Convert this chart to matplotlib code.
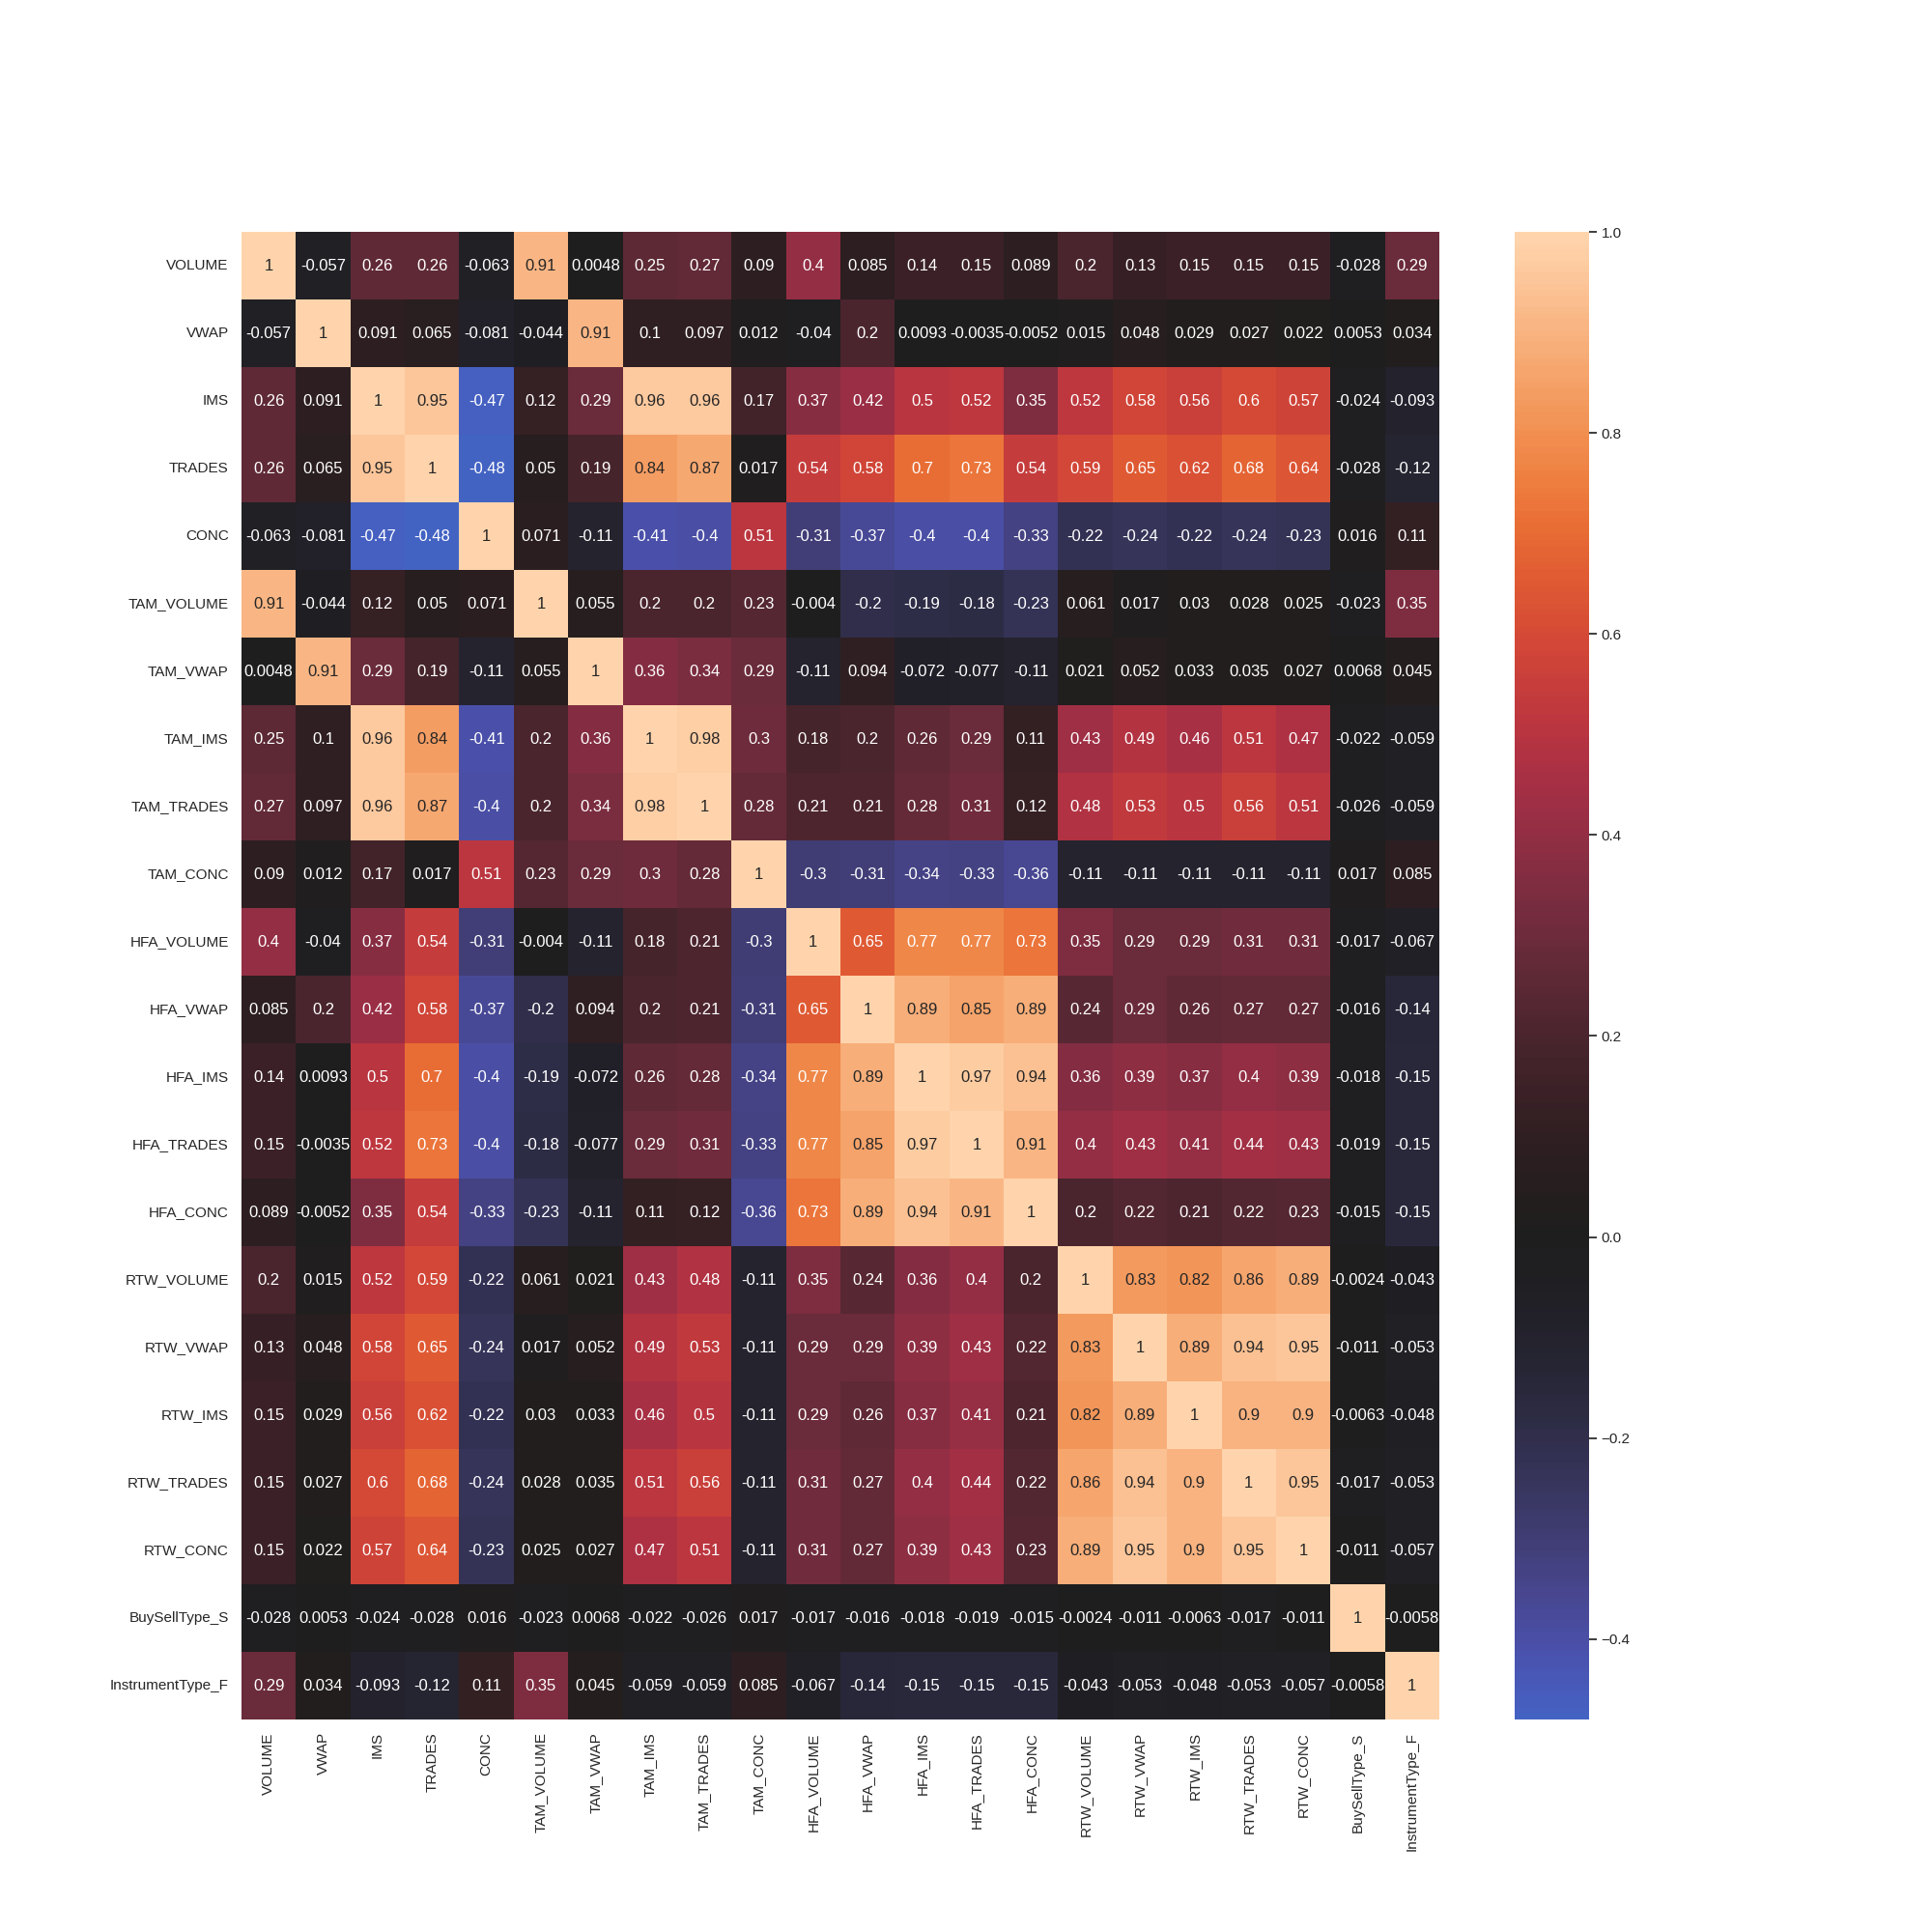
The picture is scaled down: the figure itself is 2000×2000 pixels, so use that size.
import numpy as np
import pandas as pd
import matplotlib
matplotlib.use("Agg")
import matplotlib.pyplot as plt
import seaborn as sns

labels = ["VOLUME", "VWAP", "IMS", "TRADES", "CONC", "TAM_VOLUME", "TAM_VWAP",
          "TAM_IMS", "TAM_TRADES", "TAM_CONC", "HFA_VOLUME", "HFA_VWAP", "HFA_IMS",
          "HFA_TRADES", "HFA_CONC", "RTW_VOLUME", "RTW_VWAP", "RTW_IMS", "RTW_TRADES",
          "RTW_CONC", "BuySellType_S", "InstrumentType_F"]

row_volume = [1, -0.057, 0.26, 0.26, -0.063, 0.91, 0.0048, 0.25, 0.27, 0.09, 0.4, 0.085, 0.14, 0.15, 0.089, 0.2, 0.13, 0.15, 0.15, 0.15, -0.028, 0.29]
row_vwap = [-0.057, 1, 0.091, 0.065, -0.081, -0.044, 0.91, 0.1, 0.097, 0.012, -0.04, 0.2, 0.0093, -0.0035, -0.0052, 0.015, 0.048, 0.029, 0.027, 0.022, 0.0053, 0.034]
row_ims = [0.26, 0.091, 1, 0.95, -0.47, 0.12, 0.29, 0.96, 0.96, 0.17, 0.37, 0.42, 0.5, 0.52, 0.35, 0.52, 0.58, 0.56, 0.6, 0.57, -0.024, -0.093]
row_trades = [0.26, 0.065, 0.95, 1, -0.48, 0.05, 0.19, 0.84, 0.87, 0.017, 0.54, 0.58, 0.7, 0.73, 0.54, 0.59, 0.65, 0.62, 0.68, 0.64, -0.028, -0.12]
row_conc = [-0.063, -0.081, -0.47, -0.48, 1, 0.071, -0.11, -0.41, -0.4, 0.51, -0.31, -0.37, -0.4, -0.4, -0.33, -0.22, -0.24, -0.22, -0.24, -0.23, 0.016, 0.11]
row_tam_volume = [0.91, -0.044, 0.12, 0.05, 0.071, 1, 0.055, 0.2, 0.2, 0.23, -0.004, -0.2, -0.19, -0.18, -0.23, 0.061, 0.017, 0.03, 0.028, 0.025, -0.023, 0.35]
row_tam_vwap = [0.0048, 0.91, 0.29, 0.19, -0.11, 0.055, 1, 0.36, 0.34, 0.29, -0.11, 0.094, -0.072, -0.077, -0.11, 0.021, 0.052, 0.033, 0.035, 0.027, 0.0068, 0.045]
row_tam_ims = [0.25, 0.1, 0.96, 0.84, -0.41, 0.2, 0.36, 1, 0.98, 0.3, 0.18, 0.2, 0.26, 0.29, 0.11, 0.43, 0.49, 0.46, 0.51, 0.47, -0.022, -0.059]
row_tam_trades = [0.27, 0.097, 0.96, 0.87, -0.4, 0.2, 0.34, 0.98, 1, 0.28, 0.21, 0.21, 0.28, 0.31, 0.12, 0.48, 0.53, 0.5, 0.56, 0.51, -0.026, -0.059]
row_tam_conc = [0.09, 0.012, 0.17, 0.017, 0.51, 0.23, 0.29, 0.3, 0.28, 1, -0.3, -0.31, -0.34, -0.33, -0.36, -0.11, -0.11, -0.11, -0.11, -0.11, 0.017, 0.085]
row_hfa_volume = [0.4, -0.04, 0.37, 0.54, -0.31, -0.004, -0.11, 0.18, 0.21, -0.3, 1, 0.65, 0.77, 0.77, 0.73, 0.35, 0.29, 0.29, 0.31, 0.31, -0.017, -0.067]
row_hfa_vwap = [0.085, 0.2, 0.42, 0.58, -0.37, -0.2, 0.094, 0.2, 0.21, -0.31, 0.65, 1, 0.89, 0.85, 0.89, 0.24, 0.29, 0.26, 0.27, 0.27, -0.016, -0.14]
row_hfa_ims = [0.14, 0.0093, 0.5, 0.7, -0.4, -0.19, -0.072, 0.26, 0.28, -0.34, 0.77, 0.89, 1, 0.97, 0.94, 0.36, 0.39, 0.37, 0.4, 0.39, -0.018, -0.15]
row_hfa_trades = [0.15, -0.0035, 0.52, 0.73, -0.4, -0.18, -0.077, 0.29, 0.31, -0.33, 0.77, 0.85, 0.97, 1, 0.91, 0.4, 0.43, 0.41, 0.44, 0.43, -0.019, -0.15]
row_hfa_conc = [0.089, -0.0052, 0.35, 0.54, -0.33, -0.23, -0.11, 0.11, 0.12, -0.36, 0.73, 0.89, 0.94, 0.91, 1, 0.2, 0.22, 0.21, 0.22, 0.23, -0.015, -0.15]
row_rtw_volume = [0.2, 0.015, 0.52, 0.59, -0.22, 0.061, 0.021, 0.43, 0.48, -0.11, 0.35, 0.24, 0.36, 0.4, 0.2, 1, 0.83, 0.82, 0.86, 0.89, -0.0024, -0.043]
row_rtw_vwap = [0.13, 0.048, 0.58, 0.65, -0.24, 0.017, 0.052, 0.49, 0.53, -0.11, 0.29, 0.29, 0.39, 0.43, 0.22, 0.83, 1, 0.89, 0.94, 0.95, -0.011, -0.053]
row_rtw_ims = [0.15, 0.029, 0.56, 0.62, -0.22, 0.03, 0.033, 0.46, 0.5, -0.11, 0.29, 0.26, 0.37, 0.41, 0.21, 0.82, 0.89, 1, 0.9, 0.9, -0.0063, -0.048]
row_rtw_trades = [0.15, 0.027, 0.6, 0.68, -0.24, 0.028, 0.035, 0.51, 0.56, -0.11, 0.31, 0.27, 0.4, 0.44, 0.22, 0.86, 0.94, 0.9, 1, 0.95, -0.017, -0.053]
row_rtw_conc = [0.15, 0.022, 0.57, 0.64, -0.23, 0.025, 0.027, 0.47, 0.51, -0.11, 0.31, 0.27, 0.39, 0.43, 0.23, 0.89, 0.95, 0.9, 0.95, 1, -0.011, -0.057]
row_buysell = [-0.028, 0.0053, -0.024, -0.028, 0.016, -0.023, 0.0068, -0.022, -0.026, 0.017, -0.017, -0.016, -0.018, -0.019, -0.015, -0.0024, -0.011, -0.0063, -0.017, -0.011, 1, -0.0058]
row_instrument = [0.29, 0.034, -0.093, -0.12, 0.11, 0.35, 0.045, -0.059, -0.059, 0.085, -0.067, -0.14, -0.15, -0.15, -0.15, -0.043, -0.053, -0.048, -0.053, -0.057, -0.0058, 1]

rows = [row_volume, row_vwap, row_ims, row_trades, row_conc, row_tam_volume,
        row_tam_vwap, row_tam_ims, row_tam_trades, row_tam_conc, row_hfa_volume,
        row_hfa_vwap, row_hfa_ims, row_hfa_trades, row_hfa_conc, row_rtw_volume,
        row_rtw_vwap, row_rtw_ims, row_rtw_trades, row_rtw_conc, row_buysell,
        row_instrument]

corr = pd.DataFrame(rows, index=labels, columns=labels)

sns.set_theme()
plt.rcParams['font.family'] = ['Liberation Sans', 'DejaVu Sans']

fig, ax = plt.subplots(figsize=(20, 20), dpi=100)
sns.heatmap(corr, annot=True, center=0, ax=ax)
fig.savefig("out.png", dpi=100)
